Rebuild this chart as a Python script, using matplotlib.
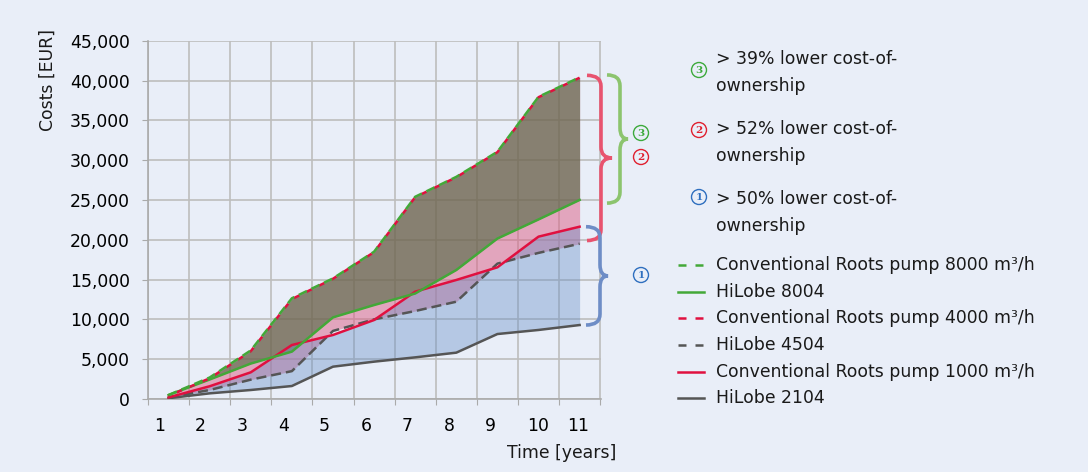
import matplotlib.pyplot as plt
from matplotlib.lines import Line2D
from matplotlib.path import Path
from matplotlib.patches import PathPatch, Circle
from matplotlib.transforms import IdentityTransform

plt.rcParams['font.family'] = ['DejaVu Sans']
plt.rcParams['text.color'] = '#1A1A1A'

# dati (anni 1..11, costi in EUR)
anni = list(range(1, 12))
etichette_x = [str(a) for a in anni]
pos_etichette_x = [0.78, 1.78, 2.78, 3.79, 4.79, 5.80, 6.80, 7.82, 8.82, 9.99, 10.97]

conv_8000 = [500, 2700, 6100, 12650, 15150, 18500, 25400, 27900, 31050, 37950, 40400]
hilobe_8004 = [500, 2450, 4450, 5950, 10250, 11800, 13250, 16200, 20150, 22550, 25000]
conv_4000 = [400, 2600, 6000, 12550, 15100, 18450, 25350, 27850, 31000, 37900, 40350]
hilobe_4504 = [200, 1130, 2430, 3500, 8550, 10000, 11050, 12220, 17000, 18350, 19500]
conv_1000 = [200, 1600, 3350, 6780, 8040, 9920, 13480, 14950, 16540, 20390, 21640]
hilobe_2104 = [100, 710, 1130, 1630, 4060, 4690, 5230, 5820, 8160, 8670, 9290]

nomi = ["Conventional Roots pump 8000 m\u00b3/h", "HiLobe 8004",
        "Conventional Roots pump 4000 m\u00b3/h", "HiLobe 4504",
        "Conventional Roots pump 1000 m\u00b3/h", "HiLobe 2104"]

note = ["> 39% lower cost-of-", "> 52% lower cost-of-", "> 50% lower cost-of-"]
numeri = ["3", "2", "1"]

bg = '#E9EEF8'
verde = '#43A838'
rosso = '#E0103F'
grigio = '#555555'
fs = 12.4
W, H = 1088, 472

fig = plt.figure(figsize=(W / 100, H / 100), dpi=100, facecolor=bg)
ax = fig.add_axes([148 / W, 1 - 399 / H, (601 - 148) / W, (399 - 40.7) / H])
ax.set_facecolor(bg)

# aree
ax.fill_between(anni, conv_4000, hilobe_4504, color=(221/255, 94/255, 132/255), alpha=0.5, lw=0, zorder=2)
ax.fill_between(anni, conv_8000, hilobe_8004, color=(74/255, 104/255, 63/255), alpha=0.6, lw=0, zorder=3)
ax.fill_between(anni, conv_1000, hilobe_2104, color=(103/255, 143/255, 198/255), alpha=0.4, lw=0, zorder=4)

# linee
lw = 1.8
ax.plot(anni, hilobe_2104, color=grigio, lw=lw, zorder=5)
ax.plot(anni, hilobe_4504, color=grigio, lw=lw, linestyle=(0, (4, 2)), zorder=5)
ax.plot(anni, conv_1000, color=rosso, lw=lw, zorder=6)
ax.plot(anni, hilobe_8004, color=verde, lw=lw, zorder=6)
ax.plot(anni, conv_4000, color=rosso, lw=lw, linestyle=(2.2, (2.4, 3.2)), zorder=7)
ax.plot(anni, conv_8000, color=verde, lw=lw, linestyle=(0, (3.6, 2)), zorder=8)

ax.set_xlim(0.5, 11.52)
ax.set_ylim(0, 45000)
ax.set_xticks([x + 0.5 for x in range(0, 12)])
ax.set_xticklabels([])
ax.set_xticks(pos_etichette_x, minor=True)
ax.set_xticklabels(etichette_x, minor=True)
ax.tick_params(axis='x', which='minor', length=0, pad=13, labelsize=fs)
ax.tick_params(axis='x', which='major', length=4, color='#AAAAAA')
ax.set_yticks(range(0, 45001, 5000))
ax.set_yticklabels(['{:,}'.format(v) for v in range(0, 45001, 5000)])
ax.tick_params(axis='y', length=4, color='#AAAAAA', pad=9, labelsize=fs)
ax.grid(True, which='major', color='#BDBDBD', lw=1.2, zorder=1)
ax.set_axisbelow(True)
for s in ['top', 'right']:
    ax.spines[s].set_visible(False)
for s in ['left', 'bottom']:
    ax.spines[s].set_color('#AAAAAA')
    ax.spines[s].set_linewidth(1.2)

fig.text(48 / W, 1 - 80 / H, "Costs [EUR]", rotation=90, ha='center', va='center', fontsize=fs)
fig.text(616 / W, 1 - 453 / H, "Time [years]", ha='right', va='center', fontsize=fs)


# parentesi graffe
def graffa(v_top, v_bot, x_end, x_sp, x_tip, col, r=11):
    yt = ax.transData.transform((1, v_top))[1]
    yb = ax.transData.transform((1, v_bot))[1]
    ym = (yt + yb) / 2
    verts = [(x_end, yt), (x_sp, yt), (x_sp, yt - r), (x_sp, ym + r),
             (x_sp, ym), (x_tip, ym), (x_sp, ym), (x_sp, ym - r),
             (x_sp, yb + r), (x_sp, yb), (x_end, yb)]
    codes = [Path.MOVETO, Path.CURVE3, Path.CURVE3, Path.LINETO,
             Path.CURVE3, Path.CURVE3, Path.CURVE3, Path.CURVE3,
             Path.LINETO, Path.CURVE3, Path.CURVE3]
    fig.add_artist(PathPatch(Path(verts, codes), fc='none', ec=col, lw=2.6,
                             transform=IdentityTransform()))


graffa(conv_8000[-1] + 300, hilobe_8004[-1] - 400, 607, 620, 628, '#8CC46E')
graffa(conv_4000[-1] + 300, hilobe_4504[-1] + 400, 587, 601, 612, '#E8536F')
graffa(conv_1000[-1], hilobe_2104[-1], 586, 600, 608, '#6E8DC6')

col_num = ['#3DAA3C', '#E0202F', '#2F6FBF']


def numero(x, y, n, col):
    fig.add_artist(Circle((x, H - y), 7.5, fc='none', ec=col, lw=1.0,
                          transform=IdentityTransform()))
    fig.text(x / W, 1 - (y + 0.5) / H, n, ha='center', va='center', fontsize=7.5,
             color=col, family='DejaVu Serif', fontweight='bold')


numero(641, 133, numeri[0], col_num[0])
numero(641, 157, numeri[1], col_num[1])
numero(641, 275, numeri[2], col_num[2])

# legenda
for n, col, yc in zip(numeri, col_num, [70, 130, 197]):
    numero(699, yc, n, col)
for testo, yt in zip(note, [59, 129, 199]):
    fig.text(716 / W, 1 - yt / H, testo, ha='left', va='center', fontsize=fs)
    fig.text(716 / W, 1 - (yt + 27) / H, "ownership", ha='left', va='center', fontsize=fs)

tratt = (0, (3.2, 3.6))
stili = [(verde, tratt), (verde, '-'), (rosso, tratt), (grigio, tratt), (rosso, '-'), (grigio, '-')]
for nome, (col, ds), yl in zip(nomi, stili, [265, 292, 318, 345, 372, 398]):
    ln = Line2D([678 / W, 704 / W], [1 - yl / H, 1 - yl / H], color=col, lw=lw,
                linestyle=ds, transform=fig.transFigure)
    fig.add_artist(ln)
    fig.text(716 / W, 1 - yl / H, nome, ha='left', va='center', fontsize=fs)

fig.savefig('out.png', dpi=100, facecolor=bg)
